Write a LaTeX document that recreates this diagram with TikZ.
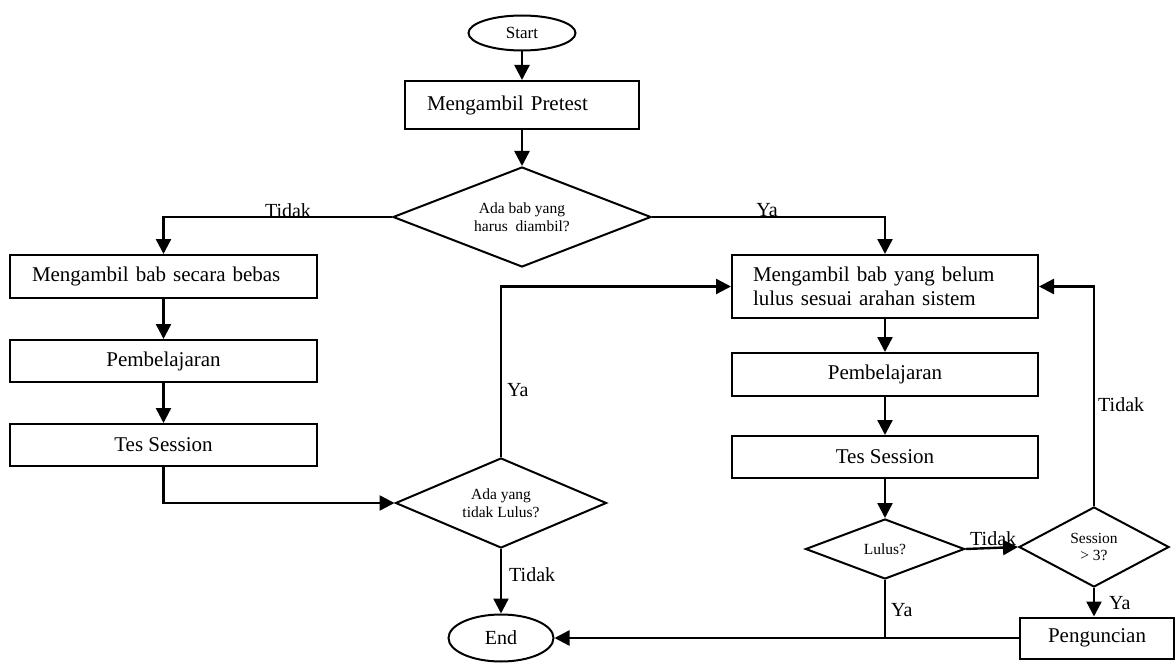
\documentclass[tikz,border=0pt]{standalone}
\usepackage{fontspec}
\setmainfont{Liberation Serif}
\usetikzlibrary{shapes.geometric,arrows.meta}

\tikzset{
  proc/.style={rectangle, draw, line width=2pt, minimum height=42pt, inner sep=0pt, font=\fontsize{21}{24}\selectfont},
  dec/.style={diamond, draw, line width=2pt, inner sep=0pt, align=center, font=\fontsize{15.5}{17.5}\selectfont},
  term/.style={ellipse, draw, line width=2pt, inner sep=0pt},
  lbl/.style={inner sep=0pt, font=\fontsize{20}{22}\selectfont},
  arr/.style={-{Triangle[length=15pt,width=15pt]}, line width=2.4pt},
  plain/.style={line width=2.4pt},
}

\begin{document}
\begin{tikzpicture}[x=1pt, y=-1pt]
        \useasboundingbox (0,0) rectangle (1176,666);

        % Start and pretest
        \node at (522,33) (Start) [term, minimum width=107pt, minimum height=35pt, font=\fontsize{17}{20}\selectfont] {Start};
        \node at (522,105) (Pretest) [proc, minimum height=48pt, text width=190pt, align=left, inner xsep=22pt] {Mengambil Pretest};
        \node at (522,217) (D1) [dec, aspect=2.5, minimum width=258pt, minimum height=100pt] {Ada bab yang\\harus\ \ diambil?};

        % Left side steps
        \node at (163.5,276.5) (L1) [proc, minimum height=43pt, text width=263pt, align=left, inner xsep=22pt] {Mengambil bab secara bebas};
        \node at (163.5,361) (L2) [proc, minimum width=307pt] {Pembelajaran};
        \node at (163.5,445) (L3) [proc, minimum width=307pt] {Tes Session};

        % Middle decision and end
        \node at (501,503) (D2) [dec, aspect=2.3, minimum width=211pt, minimum height=90pt] {Ada yang\\tidak Lulus?};
        \node at (501,638) (End) [term, minimum width=105pt, minimum height=47pt, font=\fontsize{20}{22}\selectfont] {End};

        % Right side steps
        \node at (885,286.5) (R1) [proc, minimum height=63pt, text width=264pt, align=left, inner xsep=21pt] {Mengambil bab yang belum\\lulus sesuai arahan sistem};
        \node at (885,374.5) (R2) [proc, minimum width=306pt, minimum height=43pt] {Pembelajaran};
        \node at (885,457) (R3) [proc, minimum width=306pt] {Tes Session};
        \node at (885,549) (D3) [dec, aspect=2.6, minimum width=159pt, minimum height=60pt] {Lulus?};
        \node at (1094,547) (D4) [dec, aspect=1.9, minimum width=150pt, minimum height=80pt] {Session\\> 3?};
        \node at (1097,638) (Lock) [proc, minimum width=154pt, minimum height=41pt] {Penguncian};

        % Labels
        \node at (288,217) (T1) [lbl, anchor=base] {Tidak};
        \node at (767,216) (Y1) [lbl, anchor=base] {Ya};
        \node at (507,390) (Y2) [lbl, anchor=west] {Ya};
        \node at (509,575) (T2) [lbl, anchor=west] {Tidak};
        \node at (1098,405) (T3) [lbl, anchor=west] {Tidak};
        \node at (970,545) (T4) [lbl, anchor=base west] {Tidak};
        \node at (891,610) (Y3) [lbl, anchor=west] {Ya};
        \node at (1109,603) (Y4) [lbl, anchor=west] {Ya};

        % Edges
        \draw[arr] (Start) -- (Pretest);
        \draw[arr] (Pretest) -- (D1);
        \draw[arr] (D1.west) -| (L1.north);
        \draw[arr] (D1.east) -| (R1.north);
        \draw[arr] (L1) -- (L2);
        \draw[arr] (L2) -- (L3);
        \draw[arr] (L3.south) |- (D2.west);
        \draw[arr] (D2.north) |- (R1.west);
        \draw[arr] (D2) -- (End);
        \draw[arr] (R1) -- (R2);
        \draw[arr] (R2) -- (R3);
        \draw[arr] (R3) -- (D3);
        \draw[arr] (D3.east) -- (D4.west);
        \draw[arr] (D4.north) |- (R1.east);
        \draw[arr] (D4.south) -- (D4.south |- Lock.north);
        \draw[plain] (D3.south) -- (D3.south |- Lock.west);
        \draw[arr] (Lock.west) -- (End.east);
\end{tikzpicture}
\end{document}
